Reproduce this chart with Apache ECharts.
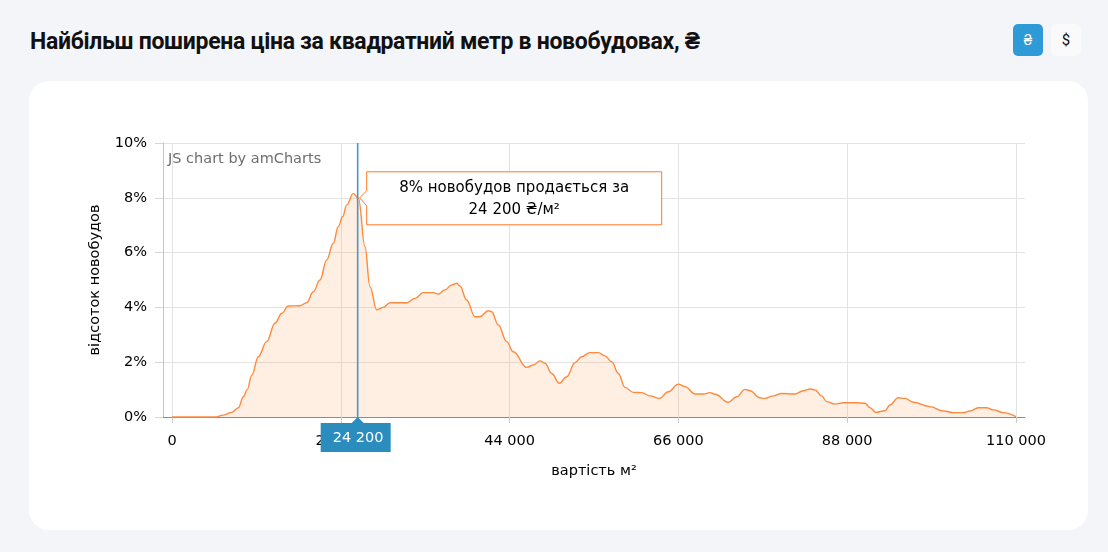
<!DOCTYPE html>
<html>
<head>
<meta charset="utf-8">
<script src="https://cdn.jsdelivr.net/npm/echarts@6/dist/echarts.min.js"></script>
<style>
  html, body { margin: 0; padding: 0; width: 1108px; height: 552px; background: #f4f5f9; overflow: hidden; }
  #title { position: absolute; left: 30px; top: 28px; font-family: Roboto, sans-serif; font-weight: 700; font-size: 23px; line-height: 27px; color: #111; letter-spacing: -0.3px; white-space: nowrap; }
  .btn { position: absolute; top: 24px; width: 30px; height: 32px; border-radius: 5px; font-family: Roboto, sans-serif; font-size: 15px; line-height: 32px; text-align: center; }
  #b1 { left: 1013px; background: #2e9bd8; color: #fff; }
  #b2 { left: 1051px; background: #fafafb; color: #111; }
  #card { position: absolute; left: 29px; top: 81px; width: 1059px; height: 449px; background: #fff; border-radius: 20px; }
  #chart { position: absolute; left: 0; top: 0; width: 1108px; height: 552px; }
</style>
</head>
<body>
<div id="title">Найбільш поширена ціна за квадратний метр в новобудовах, ₴</div>
<div class="btn" id="b1">₴</div>
<div class="btn" id="b2">$</div>
<div id="card"></div>
<div id="chart"></div>
<script>
// ---- data ----
const priceValues = [0, 2000, 4000, 5600, 6700, 7800, 8650, 9300, 9800, 10400, 11250, 12340, 13420, 14300, 15160, 16680, 17550, 18420, 19290, 20160, 21020, 21680, 22240, 22770, 23630, 24300, 25150, 25800, 26680, 27540, 28410, 30580, 31670, 32750, 34060, 34710, 35580, 36450, 37100, 37530, 38400, 39490, 40140, 41220, 41660, 42530, 43620, 44480, 46230, 47090, 47960, 48610, 49490, 50480, 51440, 52520, 53390, 54480, 55560, 56430, 57300, 58170, 59040, 60120, 61210, 62300, 63510, 64680, 65990, 66860, 68160, 69240, 70120, 70770, 72500, 73600, 74680, 75330, 76630, 77280, 78370, 79460, 81190, 82280, 83150, 83800, 84670, 85320, 86410, 87490, 89230, 90310, 90970, 91750, 92920, 93570, 94650, 95530, 96610, 98790, 100530, 101830, 103130, 104000, 105080, 106170, 107040, 108350, 110000];
const shareValues = [0, 0, 0, 0, 0.07, 0.17, 0.34, 0.74, 1.0, 1.53, 2.2, 2.75, 3.42, 3.78, 4.05, 4.06, 4.17, 4.57, 5.0, 5.73, 6.34, 6.95, 7.31, 7.74, 8.16, 7.98, 6.22, 4.76, 3.91, 4.0, 4.17, 4.17, 4.33, 4.54, 4.54, 4.49, 4.64, 4.82, 4.88, 4.78, 4.27, 3.66, 3.66, 3.88, 3.84, 3.36, 2.75, 2.38, 1.81, 1.9, 2.05, 1.96, 1.59, 1.23, 1.47, 1.98, 2.2, 2.35, 2.35, 2.23, 2.02, 1.59, 1.08, 0.9, 0.89, 0.77, 0.68, 0.92, 1.2, 1.11, 0.84, 0.84, 0.89, 0.83, 0.54, 0.74, 1.01, 0.96, 0.7, 0.68, 0.77, 0.86, 0.84, 0.96, 1.02, 0.99, 0.77, 0.56, 0.47, 0.52, 0.52, 0.5, 0.34, 0.17, 0.23, 0.44, 0.7, 0.68, 0.54, 0.38, 0.22, 0.16, 0.16, 0.22, 0.34, 0.34, 0.26, 0.16, 0.01];
const xTickValues = [0, 22000, 44000, 66000, 88000, 110000];
const yTickValues = [0, 2, 4, 6, 8, 10];
const cursorValue = 24200;
const cursorShare = 8;
const tooltipLines = ['8% новобудов продається за', '24 200 ₴/м²'];
const xAxisTitle = 'вартість м²';
const yAxisTitle = 'відсоток новобудов';
const watermark = 'JS chart by amCharts';

// ---- chart ----
const fmt = v => String(v).replace(/\B(?=(\d{3})+(?!\d))/g, ' ');
const FONT = 'DejaVu Sans, Verdana, sans-serif';
const ORANGE = '#ff8a3d';
const BLUE = '#2b8cbe';
const FS = 14.5;

const chart = echarts.init(document.getElementById('chart'), null, { renderer: 'canvas' });
const seriesData = priceValues.map((p, i) => [p, shareValues[i]]);

chart.setOption({
  animation: false,
  backgroundColor: 'transparent',
  grid: [
    { left: 172, right: 92, top: 143, bottom: 135 },
    { left: 163, right: 83, top: 143, bottom: 135 }
  ],
  xAxis: [
    {
      type: 'value', gridIndex: 0, min: xTickValues[0], max: xTickValues[xTickValues.length - 1], interval: 22000,
      axisLine: { show: false },
      axisTick: { show: true, length: 6, lineStyle: { color: '#cccccc' } },
      splitLine: { show: true, lineStyle: { color: '#e3e3e3' } },
      axisLabel: { margin: 17, color: '#000', fontFamily: FONT, fontSize: FS, formatter: v => fmt(v) },
      name: xAxisTitle, nameLocation: 'middle', nameGap: 47,
      nameTextStyle: { color: '#000', fontFamily: FONT, fontSize: FS }
    },
    {
      type: 'value', gridIndex: 1, min: 0, max: 1,
      axisLine: { show: true, lineStyle: { color: '#8c8c8c', width: 1 } },
      axisTick: { show: false }, splitLine: { show: false }, axisLabel: { show: false }
    }
  ],
  yAxis: [
    {
      type: 'value', gridIndex: 0, min: 0, max: 10, interval: 2,
      axisLine: { show: false }, axisTick: { show: false }, splitLine: { show: false }, axisLabel: { show: false }
    },
    {
      type: 'value', gridIndex: 1, min: yTickValues[0], max: yTickValues[yTickValues.length - 1], interval: 2,
      axisLine: { show: true, lineStyle: { color: '#c4c4c4' } },
      axisTick: { show: true, length: 8, lineStyle: { color: '#d6d6d6' } },
      splitLine: { show: true, lineStyle: { color: '#e3e3e3' } },
      axisLabel: { margin: 16, color: '#000', fontFamily: FONT, fontSize: FS, formatter: '{value}%' },
      name: yAxisTitle, nameLocation: 'middle', nameGap: 60, nameRotate: 90,
      nameTextStyle: { color: '#000', fontFamily: FONT, fontSize: FS }
    }
  ],
  series: [
    {
      type: 'line', xAxisIndex: 0, yAxisIndex: 0, data: seriesData,
      showSymbol: false, smooth: 0.4, smoothMonotone: 'x',
      lineStyle: { color: ORANGE, width: 1.4 },
      areaStyle: { color: ORANGE, opacity: 0.15 },
      z: 3
    }
  ]
});

function overlay() {
  const tip = chart.convertToPixel({ gridIndex: 0 }, [cursorValue, cursorShare]);
  const base = chart.convertToPixel({ gridIndex: 0 }, [cursorValue, 0]);
  const top = chart.convertToPixel({ gridIndex: 0 }, [cursorValue, 10]);
  const cx = tip[0], cy = tip[1];
  const L = cx + 9, W = 295, T = cy - 26, H = 53;
  const axisY = base[1];
  const f = FS + 'px DejaVu Sans, Verdana, sans-serif';
  chart.setOption({
    graphic: [
      { type: 'text', left: 168, top: 152, z: 50, style: { text: watermark, fill: '#6e6e6e', font: f } },
      { type: 'line', z: 60, shape: { x1: cx, y1: top[1], x2: cx, y2: axisY }, style: { stroke: '#4a97c6', lineWidth: 1.6 } },
      { type: 'polygon', z: 70, shape: { points: [[L, T], [L + W, T], [L + W, T + H], [L, T + H], [L, cy + 8], [cx + 2, cy], [L, cy - 7]] },
        style: { fill: '#ffffff', stroke: '#ff7a26', lineWidth: 1 } },
      { type: 'text', z: 71, x: L + W / 2, y: T + 16, style: { text: tooltipLines[0], fill: '#000', font: '15px DejaVu Sans, Verdana, sans-serif', align: 'center', verticalAlign: 'middle' } },
      { type: 'text', z: 71, x: L + W / 2, y: T + 38, style: { text: tooltipLines[1], fill: '#000', font: '15px DejaVu Sans, Verdana, sans-serif', align: 'center', verticalAlign: 'middle' } },
      { type: 'polygon', z: 80, shape: { points: [[cx - 6, axisY + 6], [cx, axisY], [cx + 6, axisY + 6]] }, style: { fill: BLUE } },
      { type: 'rect', z: 80, shape: { x: cx - 37, y: axisY + 6, width: 70, height: 29 }, style: { fill: BLUE } },
      { type: 'text', z: 81, x: cx + 0.5, y: axisY + 21, style: { text: fmt(cursorValue), fill: '#fff', font: f, align: 'center', verticalAlign: 'middle' } }
    ]
  });
}
overlay();
</script>
</body>
</html>
